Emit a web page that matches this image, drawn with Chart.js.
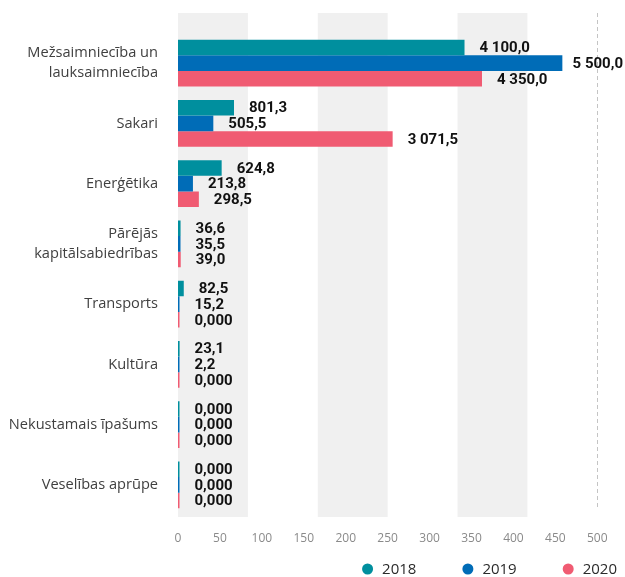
<!DOCTYPE html>
<html>
<head>
<meta charset="utf-8">
<script src="https://cdn.jsdelivr.net/npm/chart.js@4/dist/chart.umd.min.js"></script>
<style>
  html, body { margin: 0; padding: 0; background: #fff; }
  #wrap { width: 625px; height: 577px; position: relative; }
</style>
</head>
<body>
<div id="wrap"><canvas id="chart"></canvas></div>
<script>
// kategorijas
const categories = [
  ["Mežsaimniecība un", "lauksaimniecība"],
  "Sakari",
  "Enerģētika",
  ["Pārējās", "kapitālsabiedrības"],
  "Transports",
  "Kultūra",
  "Nekustamais īpašums",
  "Veselības aprūpe",
];

// vērtības pa gadiem
const values2018 = [4100.0, 801.3, 624.8, 36.6, 82.5, 23.1, 0, 0];
const values2019 = [5500.0, 505.5, 213.8, 35.5, 15.2, 2.2, 0, 0];
const values2020 = [4350.0, 3071.5, 298.5, 39.0, 0, 0, 0, 0];

const seriesNames = ["2018", "2019", "2020"];

// ass
const axisMax = 6000;
const tickValues = [0, 600, 1200, 1800, 2400, 3000, 3600, 4200, 4800, 5400, 6000];
const tickLabels = ["0", "50", "100", "150", "200", "250", "300", "350", "400", "450", "500"];
const bandRanges = [[0, 1000], [2000, 3000], [4000, 5000]];

const colors = ["#008f9e", "#006cb7", "#f05b72"];

function formatLv(v) {
  if (v === 0) return "0,000";
  const parts = v.toFixed(1).split(".");
  return parts[0].replace(/\B(?=(\d{3})+(?!\d))/g, " ") + "," + parts[1];
}

// pelēkās joslas + raustītā līnija
const bandsPlugin = {
  id: "bands",
  beforeDatasetsDraw(chart) {
    const { ctx, chartArea, scales } = chart;
    const top = chartArea.top - 20;
    const bottom = chartArea.bottom + 2;
    ctx.save();
    ctx.fillStyle = "#f0f0f0";
    bandRanges.forEach(([a, b]) => {
      const x1 = scales.x.getPixelForValue(a);
      const x2 = scales.x.getPixelForValue(b);
      ctx.fillRect(x1, top, x2 - x1, bottom - top);
    });
    const xm = Math.round(scales.x.getPixelForValue(axisMax)) + 0.5;
    ctx.strokeStyle = "#c4c4c4";
    ctx.lineWidth = 1;
    ctx.setLineDash([4, 3]);
    ctx.beginPath();
    ctx.moveTo(xm, top);
    ctx.lineTo(xm, chartArea.bottom - 5);
    ctx.stroke();
    ctx.restore();
  },
};

// vērtību etiķetes
const labelsPlugin = {
  id: "valueLabels",
  afterDatasetsDraw(chart) {
    const { ctx } = chart;
    ctx.save();
    ctx.font = "bold 15px Roboto";
    ctx.fillStyle = "#111";
    ctx.textBaseline = "middle";
    ctx.textAlign = "left";
    chart.data.datasets.forEach((ds, i) => {
      const meta = chart.getDatasetMeta(i);
      meta.data.forEach((bar, j) => {
        const text = formatLv(ds.data[j]);
        const w = ctx.measureText(text).width;
        let x = bar.x + 15;
        if (x + w > chart.width - 2) x = chart.width - 2 - w;
        ctx.fillText(text, x, bar.y + 1);
      });
    });
    ctx.restore();
  },
};

// leģenda apakšā pa labi
const legendPlugin = {
  id: "customLegend",
  afterDraw(chart) {
    const { ctx } = chart;
    const r = 5.5, gap = 9, spacing = 46;
    const y = 569;
    ctx.save();
    ctx.font = "15px 'Open Sans'";
    ctx.textBaseline = "middle";
    const items = chart.data.datasets.map(ds => ({
      text: ds.label,
      color: ds.backgroundColor,
      w: r * 2 + gap + ctx.measureText(ds.label).width,
    }));
    const total = items.reduce((s, it) => s + it.w, 0) + spacing * (items.length - 1);
    let x = 617 - total;
    items.forEach(it => {
      ctx.fillStyle = it.color;
      ctx.beginPath();
      ctx.arc(x + r, y, r, 0, Math.PI * 2);
      ctx.fill();
      ctx.fillStyle = "#2a2a2a";
      ctx.fillText(it.text, x + r * 2 + gap, y + 1);
      x += it.w + spacing;
    });
    ctx.restore();
  },
};

new Chart(document.getElementById("chart"), {
  type: "bar",
  data: {
    labels: categories,
    datasets: [values2018, values2019, values2020].map((vals, i) => ({
      label: seriesNames[i],
      data: vals,
      backgroundColor: colors[i],
      borderWidth: 0,
      minBarLength: 1.5,
      barPercentage: 1,
      categoryPercentage: 0.78,
    })),
  },
  options: {
    indexAxis: "y",
    responsive: true,
    maintainAspectRatio: false,
    animation: false,
    layout: {
      padding: { left: 0, right: 27.7, top: 33, bottom: 32 },
    },
    plugins: {
      legend: { display: false },
      tooltip: { enabled: false },
    },
    scales: {
      x: {
        min: 0,
        max: axisMax,
        grid: { display: false },
        border: { display: false },
        afterBuildTicks: scale => {
          scale.ticks = tickValues.map(value => ({ value }));
        },
        afterFit: scale => {
          scale.height = 30;
        },
        ticks: {
          autoSkip: false,
          maxRotation: 0,
          padding: 8,
          color: "#8a8a8a",
          font: { family: "'Open Sans'", size: 12 },
          callback: (value, index) => tickLabels[index],
        },
      },
      y: {
        grid: { display: false },
        border: { display: false },
        afterFit: scale => {
          scale.width = 178;
        },
        ticks: {
          padding: 12,
          color: "#404040",
          font: { family: "'Open Sans'", size: 14.6, lineHeight: 1.36 },
        },
      },
    },
  },
  plugins: [bandsPlugin, labelsPlugin, legendPlugin],
});
</script>
</body>
</html>
